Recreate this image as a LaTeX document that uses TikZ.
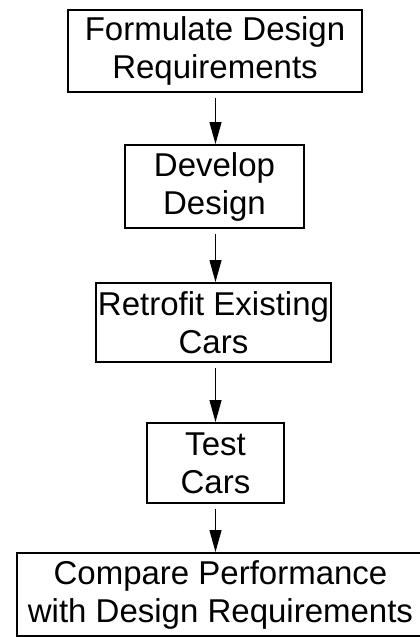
\documentclass[tikz,border=0pt]{standalone}
\usepackage{fontspec}
\setmainfont{Liberation Sans}
\usetikzlibrary{arrows.meta}
\begin{document}
\begin{tikzpicture}[x=1pt,y=1pt,
  stepbox/.style={draw=black, line width=2pt, inner sep=0pt, align=center,
    font=\fontsize{33}{38}\selectfont},
  flow/.style={line width=1.2pt, -{Triangle[length=22pt,width=12pt]}, shorten <=5pt}]
\useasboundingbox (0,0) rectangle (420,-637);
\node[stepbox, minimum width=294pt, minimum height=82pt] (a) at (215,-50.5) {Formulate Design\\Requirements};
\node[stepbox, minimum width=179pt, minimum height=83pt] (b) at (214.5,-186.5) {Develop\\Design};
\node[stepbox, minimum width=235pt, minimum height=79pt] (c) at (213.5,-322.5) {Retrofit Existing\\Cars};
\node[stepbox, minimum width=137pt, minimum height=80pt] (d) at (215.5,-463) {Test\\Cars};
\node[stepbox, minimum width=407pt, minimum height=83pt] (e) at (220.5,-594.5) {Compare Performance\\with Design Requirements};
\coordinate (ax) at (215.5,0);
\draw[flow] (a.south -| ax) -- (b.north -| ax);
\draw[flow] (b.south -| ax) -- (c.north -| ax);
\draw[flow] (c.south -| ax) -- (d.north -| ax);
\draw[flow] (d.south -| ax) -- (e.north -| ax);
\end{tikzpicture}
\end{document}
